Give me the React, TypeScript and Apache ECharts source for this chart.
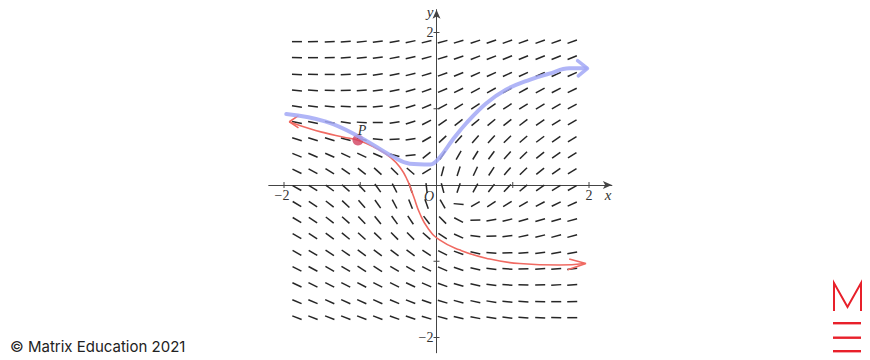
import React, { useEffect, useRef } from "react";
import * as echarts from "echarts";

// Slope-field grid (data coordinates of dash centres)
const GRID_X = [-1.83, -1.62, -1.40, -1.19, -0.98, -0.77, -0.55, -0.34, -0.13, 0.08, 0.29, 0.51, 0.72, 0.93, 1.14, 1.36, 1.57, 1.78];
const GRID_Y = [1.88, 1.67, 1.45, 1.24, 1.03, 0.82, 0.60, 0.39, 0.18, -0.04, -0.25, -0.46, -0.67, -0.89, -1.10, -1.31, -1.53, -1.74];

// Dash angles in degrees, one row per GRID_Y value
const ANGLES_ROW_0 = [0, 2, 3, 5, 6, 8, 10, 12, 14, 15, 17, 18, 19, 20, 20, 20, 20, 20];
const ANGLES_ROW_1 = [-1, 0, 2, 4, 6, 8, 11, 13, 15, 17, 19, 21, 21, 22, 22, 22, 22, 22];
const ANGLES_ROW_2 = [-3, -1, 0, 3, 5, 8, 11, 14, 17, 20, 22, 24, 25, 25, 25, 25, 24, 24];
const ANGLES_ROW_3 = [-5, -4, -2, 1, 4, 7, 12, 16, 20, 23, 26, 28, 29, 29, 29, 28, 27, 26];
const ANGLES_ROW_4 = [-8, -7, -5, -3, 1, 5, 11, 17, 23, 28, 31, 33, 34, 33, 32, 31, 30, 28];
const ANGLES_ROW_5 = [-12, -11, -10, -8, -4, 1, 9, 18, 27, 34, 38, 40, 40, 38, 37, 34, 32, 30];
const ANGLES_ROW_6 = [-17, -17, -17, -15, -13, -7, 2, 8, 30, 43, 48, 49, 47, 44, 41, 37, 34, 31];
const ANGLES_ROW_7 = [-22, -23, -24, -25, -25, -23, -15, 5, 39, 57, 60, 58, 54, 48, 44, 39, 35, 32];
const ANGLES_ROW_8 = [-26, -28, -31, -34, -38, -42, -45, -41, 31, 75, 72, 65, 57, 50, 44, 39, 35, 31];
const ANGLES_ROW_9 = [-29, -32, -36, -41, -47, -54, -63, -73, -83, -75, 71, 61, 52, 46, 40, 35, 32, 29];
const ANGLES_ROW_10 = [-31, -34, -38, -43, -49, -55, -62, -68, -70, -60, -5, 30, 33, 32, 30, 28, 26, 24];
const ANGLES_ROW_11 = [-31, -34, -38, -42, -46, -51, -54, -56, -53, -45, -28, 2, 10, 14, 16, 16, 16, 15];
const ANGLES_ROW_12 = [-30, -33, -36, -39, -42, -44, -45, -45, -41, -33, -24, -8, 2, 8, 12, 14, 15, 15];
const ANGLES_ROW_13 = [-29, -31, -33, -35, -36, -37, -37, -36, -33, -27, -20, -12, -5, 1, 5, 8, 10, 11];
const ANGLES_ROW_14 = [-27, -28, -30, -31, -32, -32, -31, -30, -27, -23, -18, -12, -7, -3, 1, 3, 5, 7];
const ANGLES_ROW_15 = [-25, -26, -27, -27, -28, -27, -26, -25, -23, -20, -16, -12, -8, -5, -2, 1, 3, 4];
const ANGLES_ROW_16 = [-23, -23, -24, -24, -24, -24, -23, -21, -19, -17, -15, -12, -9, -6, -4, -1, 0, 2];
const ANGLES_ROW_17 = [-21, -21, -21, -21, -21, -21, -20, -19, -17, -15, -13, -11, -9, -7, -5, -3, -1, 0];
const ANGLE_ROWS = [
  ANGLES_ROW_0, ANGLES_ROW_1, ANGLES_ROW_2, ANGLES_ROW_3, ANGLES_ROW_4, ANGLES_ROW_5,
  ANGLES_ROW_6, ANGLES_ROW_7, ANGLES_ROW_8, ANGLES_ROW_9, ANGLES_ROW_10, ANGLES_ROW_11,
  ANGLES_ROW_12, ANGLES_ROW_13, ANGLES_ROW_14, ANGLES_ROW_15, ANGLES_ROW_16, ANGLES_ROW_17,
];

// Hand-drawn curves
const BLUE_CURVE: [number, number][] = [
  [-1.97, 0.93], [-1.45, 0.83], [-1.01, 0.63], [-0.57, 0.37], [-0.35, 0.28], [-0.08, 0.27],
  [0.04, 0.36], [0.21, 0.59], [0.39, 0.81], [0.65, 1.07], [0.91, 1.25], [1.22, 1.38],
  [1.48, 1.46], [1.74, 1.53], [1.96, 1.53],
];
const BLUE_ARROW: [number, number][] = [[1.85, 1.63], [1.98, 1.53], [1.86, 1.43]];

const RED_CURVE: [number, number][] = [
  [-1.93, 0.83], [-1.67, 0.74], [-1.45, 0.68], [-1.23, 0.63], [-1.01, 0.58], [-0.79, 0.48],
  [-0.60, 0.36], [-0.47, 0.22], [-0.38, 0.06], [-0.30, -0.15], [-0.22, -0.37], [-0.11, -0.57],
  [0.04, -0.72], [0.30, -0.85], [0.65, -0.96], [1.09, -1.03], [1.61, -1.05], [1.94, -1.03],
];
const RED_ARROW_RIGHT: [number, number][] = [[1.74, -0.97], [1.96, -1.03], [1.72, -1.11]];
const RED_ARROW_LEFT: [number, number][] = [[-1.81, 0.91], [-1.93, 0.83], [-1.81, 0.75]];

const POINT_P: [number, number][] = [[-1.03, 0.59]];

const X_TICKS = [-2, -1, 1, 2];
const X_LABELS = [-2, 2];
const Y_TICKS = [-2, -1, 1, 2];
const Y_LABELS = [-2, 2];

const SERIF = "'Liberation Serif', 'DejaVu Serif', serif";

export default function App() {
  const ref = useRef<HTMLDivElement>(null);

  useEffect(() => {
    if (!ref.current) return;
    const chart = echarts.init(ref.current, null, { renderer: "svg" });

    const fieldData: number[][] = [];
    GRID_Y.forEach((y, r) => {
      GRID_X.forEach((x, c) => {
        fieldData.push([x, y, ANGLE_ROWS[r][c]]);
      });
    });

    const unit = 76.25;
    const xMin = -2.2, xMax = 2.3, yMin = -2.2, yMax = 2.3;
    const left = 436.5 + xMin * unit;
    const top = 185 - yMax * unit;

    const axisLine = {
      show: true,
      onZero: true,
      symbol: ["none", "arrow"],
      symbolSize: [6, 9],
      lineStyle: { color: "#444", width: 1 },
    };
    const fmt = (v: number) => (v < 0 ? "\u2212" + Math.abs(v) : String(v));

    // tick marks & labels: [value, axis(0 = x, 1 = y)]
    const tickData: number[][] = [
      ...X_TICKS.map((v) => [v, 0]),
      ...Y_TICKS.map((v) => [v, 1]),
    ];
    const labelData: number[][] = [
      ...X_LABELS.map((v) => [v, 0]),
      ...Y_LABELS.map((v) => [v, 1]),
    ];

    const option: any = {
      animation: false,
      backgroundColor: "#ffffff",
      grid: {
        left,
        top,
        width: (xMax - xMin) * unit,
        height: (yMax - yMin) * unit,
        containLabel: false,
      },
      xAxis: {
        type: "value",
        min: xMin,
        max: xMax,
        axisLine,
        splitLine: { show: false },
        axisTick: { show: false },
        axisLabel: { show: false },
      },
      yAxis: {
        type: "value",
        min: yMin,
        max: yMax,
        axisLine,
        splitLine: { show: false },
        axisTick: { show: false },
        axisLabel: { show: false },
      },
      series: [
        {
          type: "custom",
          data: fieldData,
          silent: true,
          renderItem: (params: any, api: any) => {
            const x = api.value(0);
            const y = api.value(1);
            const a = (api.value(2) * Math.PI) / 180;
            const c = api.coord([x, y]);
            const h = 5;
            const dx = Math.cos(a) * h;
            const dy = Math.sin(a) * h;
            return {
              type: "line",
              shape: { x1: c[0] - dx, y1: c[1] + dy, x2: c[0] + dx, y2: c[1] - dy },
              style: { stroke: "#262626", lineWidth: 1.5 },
            };
          },
        },
        {
          type: "custom",
          data: tickData,
          silent: true,
          renderItem: (params: any, api: any) => {
            const v = api.value(0);
            const isY = api.value(1) === 1;
            const c = api.coord(isY ? [0, v] : [v, 0]);
            const shape = isY
              ? { x1: c[0] - 3, y1: c[1], x2: c[0] + 3, y2: c[1] }
              : { x1: c[0], y1: c[1] - 3, x2: c[0], y2: c[1] + 3 };
            return { type: "line", shape, style: { stroke: "#444", lineWidth: 1 } };
          },
        },
        {
          type: "custom",
          data: labelData,
          silent: true,
          renderItem: (params: any, api: any) => {
            const v = api.value(0);
            const isY = api.value(1) === 1;
            const c = api.coord(isY ? [0, v] : [v, 0]);
            return {
              type: "text",
              x: isY ? c[0] - 3 : c[0] - (v < 0 ? 2 : 0),
              y: isY ? c[1] : c[1] + 10,
              style: {
                text: fmt(v),
                font: `14px ${SERIF}`,
                fill: "#333",
                align: isY ? "right" : "center",
                verticalAlign: "middle",
              },
            };
          },
        },
        {
          type: "line",
          data: RED_CURVE,
          smooth: 0.5,
          showSymbol: false,
          lineStyle: { color: "#f06a62", width: 1.6 },
          z: 3,
        },
        {
          type: "line",
          data: RED_ARROW_RIGHT,
          showSymbol: false,
          lineStyle: { color: "#f06a62", width: 1.6 },
          z: 3,
        },
        {
          type: "line",
          data: RED_ARROW_LEFT,
          showSymbol: false,
          lineStyle: { color: "#f06a62", width: 1.6 },
          z: 3,
        },
        {
          type: "scatter",
          data: POINT_P,
          symbolSize: 11,
          itemStyle: { color: "#d2405e" },
          z: 4,
        },
        {
          type: "line",
          data: BLUE_CURVE,
          smooth: 0.4,
          showSymbol: false,
          lineStyle: { color: "#a2a8f6", width: 4, opacity: 0.85, cap: "round", join: "round" },
          z: 5,
        },
        {
          type: "line",
          data: BLUE_ARROW,
          showSymbol: false,
          lineStyle: { color: "#a2a8f6", width: 3.5, opacity: 0.85, cap: "round", join: "round" },
          z: 5,
        },
      ],
      graphic: [
        {
          type: "text",
          x: 429,
          y: 196,
          style: { text: "O", font: `italic 14px ${SERIF}`, fill: "#333", align: "center", verticalAlign: "middle" },
        },
        {
          type: "text",
          x: 608,
          y: 195,
          style: { text: "x", font: `italic 15px ${SERIF}`, fill: "#333", align: "center", verticalAlign: "middle" },
        },
        {
          type: "text",
          x: 430,
          y: 12,
          style: { text: "y", font: `italic 15px ${SERIF}`, fill: "#333", align: "center", verticalAlign: "middle" },
        },
        {
          type: "text",
          x: 362,
          y: 130,
          z: 10,
          style: { text: "P", font: `italic 14px ${SERIF}`, fill: "#333", align: "center", verticalAlign: "middle" },
        },
        {
          type: "text",
          x: 10,
          y: 346,
          style: {
            text: "\u00A9 Matrix Education 2021",
            font: "15px Inter, 'Noto Sans', sans-serif",
            fill: "#222",
            align: "left",
            verticalAlign: "middle",
          },
        },
        {
          type: "polyline",
          shape: { points: [[834, 311], [834, 283], [847.5, 307], [861, 283], [861, 311]] },
          style: { stroke: "#e8202a", lineWidth: 2, fill: null },
        },
        { type: "rect", shape: { x: 833, y: 322, width: 28, height: 2.4 }, style: { fill: "#e8202a" } },
        { type: "rect", shape: { x: 833, y: 336.5, width: 28, height: 2.4 }, style: { fill: "#e8202a" } },
        { type: "rect", shape: { x: 833, y: 350, width: 28, height: 2.4 }, style: { fill: "#e8202a" } },
      ],
    };

    chart.setOption(option);
    return () => chart.dispose();
  }, []);

  return (
    <div
      ref={ref}
      style={{ position: "fixed", left: 0, top: 0, width: 870, height: 360, background: "#fff" }}
    />
  );
}
